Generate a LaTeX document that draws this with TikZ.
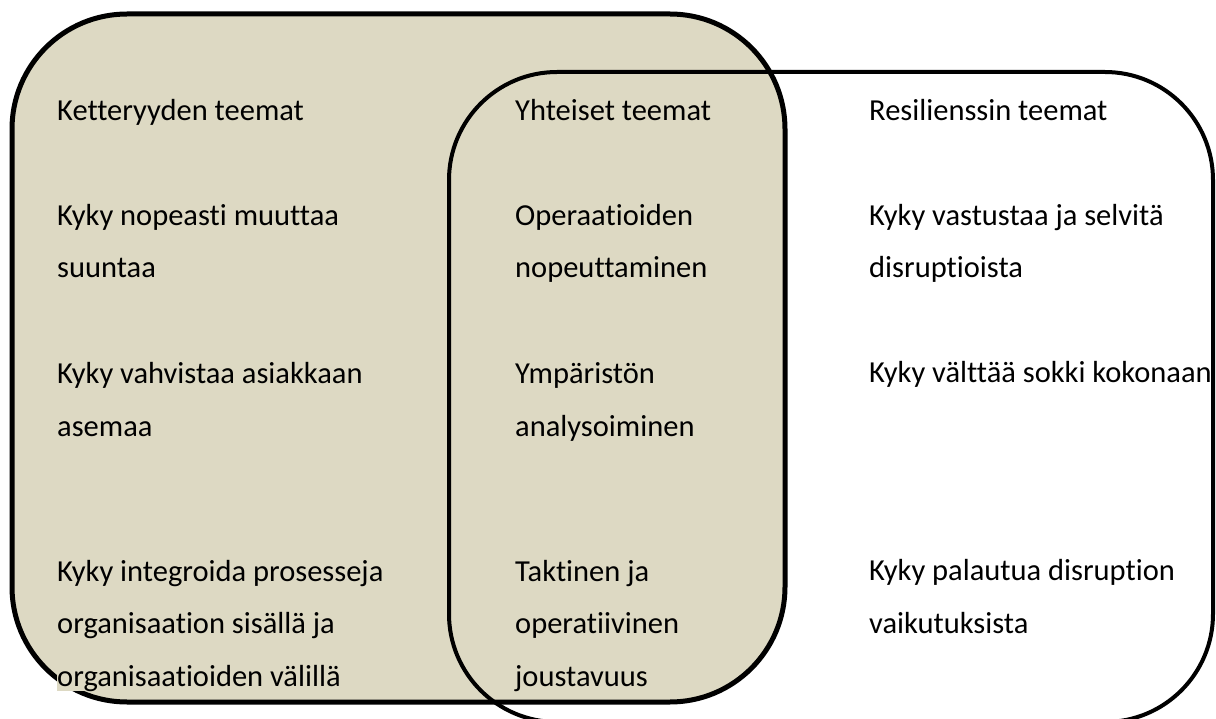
\documentclass[tikz,border=0pt]{standalone}
\usepackage{fontspec}
\setmainfont{Carlito}[Ligatures=NoCommon]
\definecolor{tanfill}{HTML}{DDD9C3}
\begin{document}
\begin{tikzpicture}[x=1pt,y=-1pt,
  setbox/.style={line width=5pt, draw=black, rounded corners=115pt},
  setboxr/.style={line width=4pt, draw=black, rounded corners=108pt},
  txt/.style={anchor=base west, inner sep=0pt, align=left, text=black,
    font=\fontsize{30.5}{52.5}\selectfont}]
\useasboundingbox (0,0) rectangle (1216,719);
\clip (0,0) rectangle (1216,719);
\fill[white] (0,0) rectangle (1216,719);
% left set (agility), filled
\path[fill=tanfill, setbox] (12,14) rectangle (785,702);
% right set (resilience), outline only
\path[setboxr] (449,72) rectangle (1213,722);
% left column (base = baseline of last line)
\node[txt] (k0) at (57,121) {Ketteryyden teemat};
\node[txt] (k1) at (57,278) {Kyky nopeasti muuttaa\\suuntaa};
\node[txt] (k2) at (57,436) {Kyky vahvistaa asiakkaan\\asemaa};
\node[txt, fill=tanfill] (k3) at (57,686) {Kyky integroida prosesseja\\organisaation sisällä ja\\organisaatioiden välillä};
% middle column
\node[txt] (y0) at (515,121) {Yhteiset teemat};
\node[txt] (y1) at (515,278) {Operaatioiden\\nopeuttaminen};
\node[txt] (y2) at (515,436) {Ympäristön\\analysoiminen};
\node[txt] (y3) at (515,686) {Taktinen ja\\operatiivinen\\joustavuus};
% right column
\node[txt] (r0) at (869,121) {Resilienssin teemat};
\node[txt] (r1) at (869,278) {Kyky vastustaa ja selvitä\\disruptioista};
\node[txt] (r2) at (869,383) {Kyky välttää sokki kokonaan};
\node[txt] (r3) at (869,633) {Kyky palautua disruption\\vaikutuksista};
\end{tikzpicture}
\end{document}
